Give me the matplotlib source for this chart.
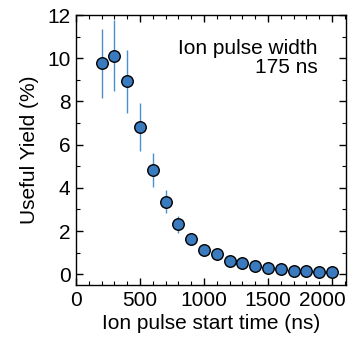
import matplotlib
matplotlib.use("Agg")
import matplotlib.pyplot as plt
import matplotlib.transforms as mtransforms
from matplotlib.ticker import MultipleLocator

# pulse start time (ns) and useful yield (%) with error
start_ns = [200, 300, 400, 500, 600, 700, 800, 900, 1000, 1100,
            1200, 1300, 1400, 1500, 1600, 1700, 1800, 1900, 2000]
yield_pct = [9.77, 10.12, 8.93, 6.82, 4.81, 3.36, 2.31, 1.65, 1.13, 0.93,
             0.63, 0.51, 0.37, 0.29, 0.23, 0.17, 0.15, 0.12, 0.09]
yield_err = [1.6, 1.63, 1.45, 1.1, 0.78, 0.54, 0.38, 0.22, 0.15, 0.12,
             0.08, 0.06, 0.05, 0.04, 0.03, 0.03, 0.02, 0.02, 0.02]

plt.rcParams.update({
    "font.family": ["Liberation Sans", "DejaVu Sans"],
    "font.size": 15,
    "axes.linewidth": 1.0,
})

fig = plt.figure(figsize=(3.48, 3.37), dpi=100)
ax = fig.add_axes([0.2184, 0.1543, 0.776, 0.801])

ax.errorbar(start_ns, yield_pct, yerr=yield_err, fmt="none",
            ecolor="#4a8fd0", elinewidth=1.0, capsize=0, zorder=2)
ax.plot(start_ns, yield_pct, "o", color="#3a7bbf", markeredgecolor="black",
        markeredgewidth=1.0, markersize=8.3, zorder=3)

ax.set_xlim(0, 2110)
ax.set_ylim(-0.5, 12)
ax.xaxis.set_major_locator(MultipleLocator(500))
ax.xaxis.set_minor_locator(MultipleLocator(100))
ax.yaxis.set_major_locator(MultipleLocator(2))
ax.yaxis.set_minor_locator(MultipleLocator(1))
ax.tick_params(which="both", direction="in", top=True, right=True, labelsize=15)
ax.tick_params(which="major", length=5, width=1.0, pad=4)
ax.tick_params(which="minor", length=3, width=0.8)

ax.set_xlabel("Ion pulse start time (ns)", fontsize=15, labelpad=3)
ax.set_ylabel("Useful Yield (%)", fontsize=15, labelpad=6)

ax.text(0.896, 0.91, "Ion pulse width\n175 ns", transform=ax.transAxes,
        ha="right", va="top", fontsize=15, linespacing=0.95)

# nudge the last x tick label inward so it stays inside the figure
fig.canvas.draw()
last = [t for t in ax.get_xticklabels() if t.get_text() == "2000"]
for t in last:
    t.set_transform(t.get_transform() + mtransforms.ScaledTranslation(-0.1, 0, fig.dpi_scale_trans))

fig.savefig("out.png", dpi=100)
